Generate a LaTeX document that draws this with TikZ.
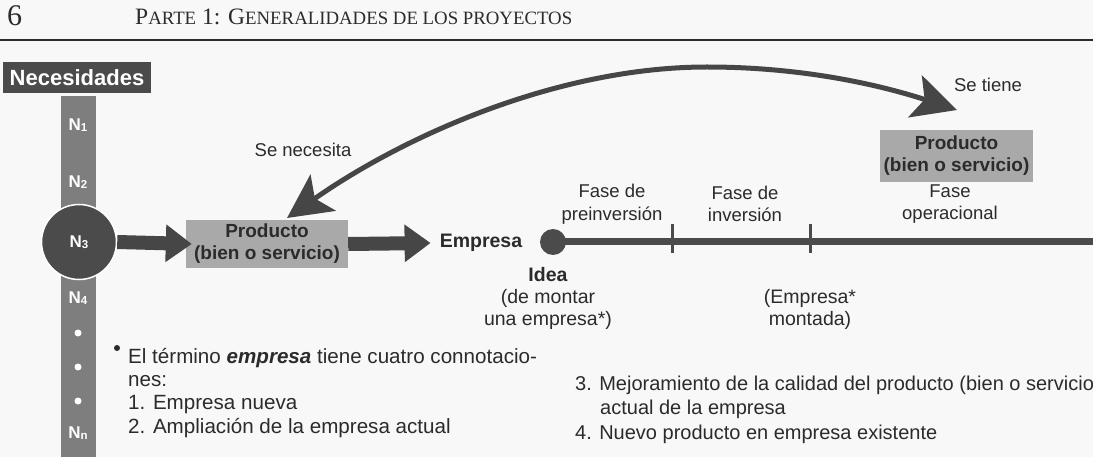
\documentclass[tikz,border=0pt]{standalone}
\usepackage{fontspec}
\setsansfont{Liberation Sans}
\newfontfamily\tms{Liberation Serif}
\usetikzlibrary{arrows.meta}
\definecolor{bgc}{HTML}{F8F8F8}
\definecolor{darkg}{HTML}{4B4B4B}
\definecolor{barg}{HTML}{7E7E7E}
\definecolor{boxg}{HTML}{A9A9A9}
\definecolor{txtc}{HTML}{2B2B2B}
\definecolor{arrc}{HTML}{464646}
\newcommand{\nsub}[1]{\raisebox{-1.5pt}{\fontsize{11.5}{11.5}\selectfont #1}}
\newcommand{\fsc}[1]{{\fontsize{18.8}{20}\selectfont #1}}
\begin{document}
\begin{tikzpicture}[x=1pt,y=-1pt,
  lbl/.style={text=txtc, inner sep=0pt, align=center, font=\sffamily\fontsize{18.5}{22.5}\selectfont},
  blbl/.style={lbl, font=\sffamily\bfseries\fontsize{19.5}{22.5}\selectfont},
  nlbl/.style={text=white, inner sep=0pt, font=\sffamily\bfseries\fontsize{17}{17}\selectfont},
  prodbox/.style={fill=boxg, inner sep=0pt, align=center, text=txtc, font=\sffamily\bfseries\fontsize{19}{22}\selectfont},
  bigarr/.style={draw=arrc, line width=14pt, -{Triangle[length=26pt,width=36pt]}},
  curvarr/.style={draw=arrc, line width=5pt, {Stealth[length=44pt,width=44pt,inset=10pt]}-{Stealth[length=44pt,width=44pt,inset=10pt]}},
  body/.style={text=txtc, inner sep=0pt, anchor=base west, font=\sffamily\fontsize{20.6}{24}\selectfont},
  rbody/.style={body, font=\sffamily\fontsize{20}{24}\selectfont},
  dotn/.style={circle, fill=white, inner sep=0pt, minimum size=7pt},
  tickline/.style={draw=darkg, line width=3pt}
]
\path[use as bounding box, fill=bgc] (0,0) rectangle (1093,457);

% header
\node[anchor=base west, inner sep=0pt, text=txtc, font=\tms\fontsize{30}{31}\selectfont] (pg) at (7,26) {6};
\node[anchor=base west, inner sep=0pt, text=txtc, font=\tms\fontsize{23.5}{25}\selectfont] (hdr) at (135,25) {P\fsc{ARTE} 1: G\fsc{ENERALIDADES DE LOS PROYECTOS}};
\coordinate (rl) at (0,40);
\coordinate (rr) at (1093,40);
\draw[txtc, line width=2.5pt] (rl) -- (rr);

% needs column
\node[fill=darkg, text=white, inner sep=0pt, minimum width=148pt, minimum height=31pt, font=\sffamily\bfseries\fontsize{22}{22}\selectfont] (nec) at (77,78) {Necesidades};
\node[fill=barg, inner sep=0pt, minimum width=35pt, minimum height=362pt, anchor=north] (bar) at (78.5,96) {};
\node[nlbl] (n1) at (78,125) {N\nsub{1}};
\node[nlbl] (n2) at (78,182) {N\nsub{2}};
\node[circle, fill=darkg, draw=white, line width=1.5pt, minimum size=75pt, inner sep=0pt] (n3) at (79,242) {};
\node[nlbl] (n3l) at (79,242) {N\nsub{3}};
\node[nlbl] (n4) at (78,298) {N\nsub{4}};
\node[dotn] (d1) at (78,333) {};
\node[dotn] (d2) at (78,367) {};
\node[dotn] (d3) at (78,401) {};
\node[nlbl] (nn) at (78,433) {N\nsub{n}};

% products and arrows
\node[prodbox, minimum width=162pt, minimum height=48pt] (prod1) at (267,244) {Producto\\(bien o servicio)};
\node[blbl] (emp) at (481,243) {Empresa};
\draw[bigarr] (n3.east) -- ([xshift=6pt]prod1.west);
\draw[bigarr] (prod1.east) -- ([xshift=-9pt]emp.west);

\node[prodbox, minimum width=153pt, minimum height=52pt] (prod2) at (956.5,156) {Producto\\(bien o servicio)};
\node[lbl] (tiene) at (988,85) {Se tiene};
\node[lbl] (necesita) at (303,150) {Se necesita};

\coordinate (cl) at (287,218);
\coordinate (cp) at (707,67);
\coordinate (cr) at (957,110);
\draw[curvarr] (cl) .. controls (407,134) and (560,67) .. (cp) .. controls (800,67) and (877,84) .. (cr);

% timeline
\node[circle, fill=darkg, inner sep=0pt, minimum size=26pt] (idea) at (553,242) {};
\coordinate (tend) at (1093,242);
\draw[darkg, line width=7pt] (idea.center) -- (tend);
\coordinate (t1a) at (672,224); \coordinate (t1b) at (672,253);
\coordinate (t2a) at (810,224); \coordinate (t2b) at (810,253);
\draw[tickline] (t1a) -- (t1b);
\draw[tickline] (t2a) -- (t2b);

\node[lbl] (f1) at (612,204) {Fase de\\preinversión};
\node[lbl] (f2) at (745,204) {Fase de\\inversión};
\node[lbl] (f3) at (950,204) {Fase\\operacional};

\node[lbl, font=\sffamily\fontsize{19.5}{22}\selectfont] (idt) at (548,298) {\textbf{Idea}\\(de montar\\una empresa*)};
\node[lbl, font=\sffamily\fontsize{19.5}{22}\selectfont] (mont) at (810,309) {(Empresa*\\montada)};

% notes
\node[circle, fill=txtc, inner sep=0pt, minimum size=6pt] (bul) at (117,348) {};
\node[body] (b1) at (128,363) {El término \textbf{\textit{empresa}} tiene cuatro connotacio-};
\node[body] (b2) at (128,386) {nes:};
\node[body] (b3) at (128,409) {1. Empresa nueva};
\node[body] (b4) at (128,433) {2. Ampliación de la empresa actual};

\node[rbody] (r1) at (575,390) {3. Mejoramiento de la calidad del producto (bien o servicio};
\node[rbody] (r2) at (600,414) {actual de la empresa};
\node[rbody] (r3) at (575,439) {4. Nuevo producto en empresa existente};
\end{tikzpicture}
\end{document}
